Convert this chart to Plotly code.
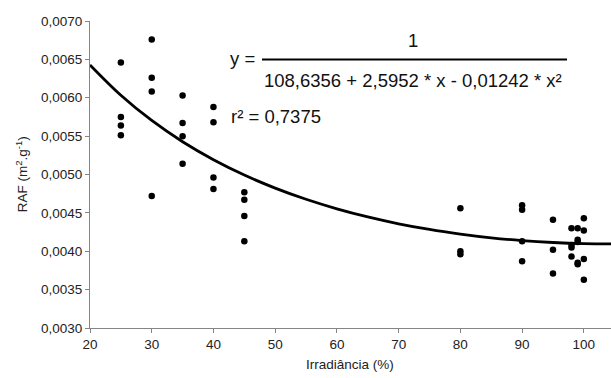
import plotly.graph_objects as go

# Observed data (Irradiância %, RAF m2/g)
irr = [25, 25, 25, 25,
       30, 30, 30, 30,
       35, 35, 35, 35,
       40, 40, 40, 40,
       45, 45, 45, 45,
       80, 80, 80,
       90, 90, 90, 90,
       95, 95, 95,
       98, 98, 98, 98,
       99, 99, 99, 99, 99,
       100, 100, 100, 100]
raf = [0.00646, 0.00575, 0.00564, 0.00551,
       0.00676, 0.00626, 0.00608, 0.00472,
       0.00603, 0.00567, 0.00550, 0.00514,
       0.00588, 0.00568, 0.00496, 0.00481,
       0.00477, 0.00467, 0.00446, 0.00413,
       0.00456, 0.00400, 0.00396,
       0.00460, 0.00454, 0.00413, 0.00387,
       0.00441, 0.00402, 0.00371,
       0.00430, 0.00408, 0.00405, 0.00393,
       0.00430, 0.00415, 0.00412, 0.00385, 0.00383,
       0.00443, 0.00427, 0.00390, 0.00363]

# Fitted curve
curve_x = [20, 25, 30, 35, 40, 45, 50, 55, 60, 65, 70, 75, 80, 85, 90, 95, 100, 105]
curve_y = [0.006428, 0.006033, 0.005704, 0.005427, 0.005193, 0.004993, 0.004823,
           0.004677, 0.004553, 0.004447, 0.004358, 0.004284, 0.004224, 0.004175,
           0.004139, 0.004114, 0.004099, 0.004095]

y_ticks = [0.0030, 0.0035, 0.0040, 0.0045, 0.0050, 0.0055, 0.0060, 0.0065, 0.0070]
y_ticklabels = ["0,0030", "0,0035", "0,0040", "0,0045", "0,0050", "0,0055", "0,0060", "0,0065", "0,0070"]
x_ticks = [20, 30, 40, 50, 60, 70, 80, 90, 100]

FONT = "Liberation Sans, Arial, sans-serif"
W, H = 611, 378
# plot area in page pixels: x 90..611, y 20.5..328
L, R, T, B = 90, 0, 20.5, H - 328
PW, PH = W - L - R, H - T - B

def px(x):  # page pixel -> paper
    return (x - L) / PW

def py(y):
    return (H - B - y) / PH

fig = go.Figure()
fig.add_trace(go.Scatter(x=curve_x, y=curve_y, mode="lines",
                         line=dict(color="black", width=2.8, shape="spline"),
                         hoverinfo="skip", showlegend=False))
fig.add_trace(go.Scatter(x=irr, y=raf, mode="markers",
                         marker=dict(color="black", size=6.5),
                         showlegend=False))

axis_common = dict(showgrid=False, zeroline=False, showline=True,
                   linecolor="#858585", linewidth=1.2,
                   ticks="outside", ticklen=4, tickwidth=1.2, tickcolor="#858585",
                   tickfont=dict(family=FONT, size=13.5, color="#222"))

fig.update_xaxes(range=[20, 104.4], tickvals=x_ticks, **axis_common)
fig.update_yaxes(range=[0.0030, 0.0070], tickvals=y_ticks, ticktext=y_ticklabels, **axis_common)

ann_font = dict(family=FONT, size=18.5, color="#111")
annotations = [
    dict(text="y =", x=px(257), y=py(58), xanchor="right", yanchor="middle", font=ann_font),
    dict(text="1", x=px(413), y=py(40), xanchor="center", yanchor="middle", font=ann_font),
    dict(text="108,6356 + 2,5952 * x - 0,01242 * x²", x=px(413), y=py(80),
         xanchor="center", yanchor="middle", font=ann_font),
    dict(text="r² = 0,7375", x=px(229), y=py(116), xanchor="left", yanchor="middle", font=ann_font),
    dict(text="Irradiância (%)", x=px(350), y=py(365), xanchor="center", yanchor="middle",
         font=dict(family=FONT, size=13.5, color="#222")),
    dict(text="RAF (m<sup>2</sup>.g<sup>-1</sup>)", x=px(22), y=py(174), xanchor="center",
         yanchor="middle", textangle=-90, font=dict(family=FONT, size=13.5, color="#222")),
]
for a in annotations:
    a.update(xref="paper", yref="paper", showarrow=False)

fig.update_layout(
    width=W, height=H,
    margin=dict(l=L, r=R, t=T, b=B, pad=0),
    paper_bgcolor="white", plot_bgcolor="white",
    annotations=annotations,
    shapes=[dict(type="line", xref="paper", yref="paper",
                 x0=px(262), x1=px(567), y0=py(59), y1=py(59),
                 line=dict(color="black", width=2))],
)

fig.write_html("out.html", config={"displayModeBar": False},
               post_script="document.body.style.margin='0';document.body.style.overflow='hidden';")
